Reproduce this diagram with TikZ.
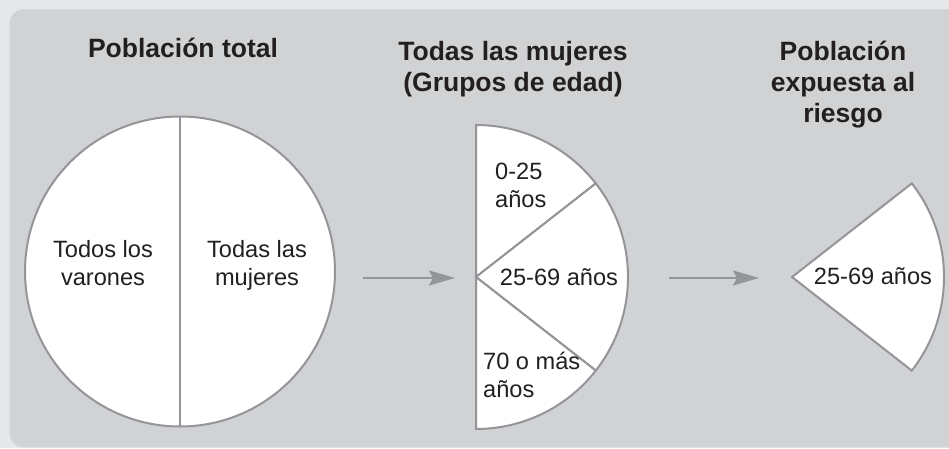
\documentclass[tikz,border=0pt]{standalone}
\usepackage{fontspec}
\setmainfont{Liberation Sans}
\usetikzlibrary{arrows.meta}
\definecolor{outergray}{HTML}{E6E7E8}
\definecolor{panelgray}{HTML}{D1D2D4}
\definecolor{edgegray}{HTML}{939598}
\definecolor{inkblack}{HTML}{231F20}
\newcommand{\sector}[4]{% center, radius, from angle, to angle
	\draw [pie] #1 -- ++(#3:#2) arc (#3:#4:#2) -- cycle;
}

\begin{document}
\begin{tikzpicture}[x=1pt, y=1pt,
	pie/.style={draw=edgegray, fill=white, line width=2pt},
	flow/.style={draw=edgegray, line width=1.8pt, -{Stealth[length=26pt, width=15pt, inset=4pt]}},
	title/.style={font=\fontsize{26.5}{31}\selectfont\bfseries, text=inkblack, align=center, inner sep=0pt, anchor=north},
	slice/.style={font=\fontsize{23.6}{27.5}\selectfont, text=inkblack, inner sep=0pt}]
	
	\clip (0,0) rectangle (949,448);
	\fill [outergray] (0,0) rectangle (949,448);
	\fill [panelgray, rounded corners=14pt] (9.5,0.7) rectangle (990,438.7);
	
	% poblacion total
	\coordinate (total) at (180,176.5);
	\draw [pie] (total) circle (155);
	\draw [pie] (total) ++(0,155) -- ++(0,-310);
	
	% todas las mujeres
	\coordinate (mujeres) at (476,171);
	\sector{(mujeres)}{152}{90}{38}
	\sector{(mujeres)}{152}{38}{-38}
	\sector{(mujeres)}{152}{-38}{-90}
	
	% poblacion expuesta
	\coordinate (riesgo) at (792,171);
	\sector{(riesgo)}{152}{38}{-38}
	
	\node [title] (ttotal) at (183,410.3) {Población total};
	\node [title] (tmujeres) at (513,406.5) {Todas las mujeres\\(Grupos de edad)};
	\node [title] (triesgo) at (843,407) {Población\\expuesta al\\riesgo};
	
	\node [slice, align=center, anchor=north] (varones) at (103,207.5) {Todos los\\varones};
	\node [slice, align=center, anchor=north] (mujerestxt) at (257,207.5) {Todas las\\mujeres};
	\node [slice, align=left, anchor=north west] (g1) at (495,284.7) {0-25\\años};
	\node [slice, anchor=base] (g2) at (559,163) {25-69 años};
	\node [slice, align=left, anchor=north west] (g3) at (483,96) {70 o más\\años};
	\node [slice, anchor=base] (g4) at (873,163.5) {25-69 años};
	
	\coordinate (a1s) at (363,170);
	\coordinate (a1e) at (455,170);
	\coordinate (a2s) at (669,170);
	\coordinate (a2e) at (759,170);
	\draw [flow] (a1s) -- (a1e);
	\draw [flow] (a2s) -- (a2e);
	
\end{tikzpicture}
\end{document}
